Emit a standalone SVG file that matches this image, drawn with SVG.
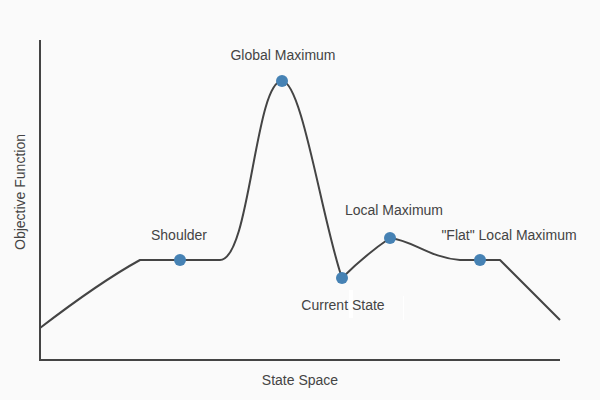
<svg xmlns="http://www.w3.org/2000/svg" width="600" height="400" viewBox="0 0 600 400">
  <style>
    .axis { stroke: #444; stroke-width: 2; fill: none; }
    .curve { stroke: #444; stroke-width: 2; fill: none; stroke-linejoin: round; }
    .dot { fill: #4682b4; }
    .lbl { font-family: "Liberation Sans", Arial, sans-serif; font-size: 14px; fill: #444; text-anchor: middle; }
  </style>
  <rect width="600" height="400" fill="#fafafa"/>
  <g id="axes">
    <path class="axis" d="M40,40 V360 H560"/>
    <text class="lbl" x="300" y="385">State Space</text>
    <text class="lbl" transform="translate(25,192) rotate(-90)">Objective Function</text>
  </g>
  <g id="connectors">
    <path class="curve" d="M40,328 Q100,282 140,260 L220,260 C250,260 255,81 282,81 C302,81 322,220 342,278 Q365,255 390,238 C412,240 430,258 460,260 L500,260 L560,320"/>
  </g>
  <rect x="349" y="290" width="4" height="28" fill="#ffffff"/>
  <rect x="403" y="296" width="1" height="24" fill="#ffffff"/>
  <g id="shoulder">
    <circle class="dot" cx="180" cy="260" r="6"/>
    <text class="lbl" x="179" y="240">Shoulder</text>
  </g>
  <g id="global-maximum">
    <circle class="dot" cx="282" cy="81" r="6"/>
    <text class="lbl" x="283" y="60">Global Maximum</text>
  </g>
  <g id="current-state">
    <circle class="dot" cx="342" cy="278" r="6"/>
    <text class="lbl" x="343" y="310">Current State</text>
  </g>
  <g id="local-maximum">
    <circle class="dot" cx="390" cy="238" r="6"/>
    <text class="lbl" x="394" y="215">Local Maximum</text>
  </g>
  <g id="flat-local-maximum">
    <circle class="dot" cx="480" cy="260" r="6"/>
    <text class="lbl" x="509" y="240">"Flat" Local Maximum</text>
  </g>
</svg>
